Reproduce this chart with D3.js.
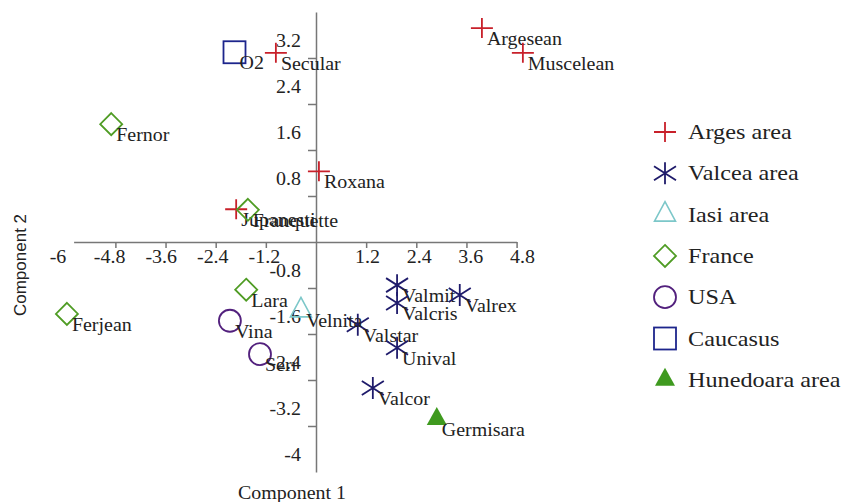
<!DOCTYPE html>
<html>
<head>
<meta charset="utf-8">
<script src="https://cdn.jsdelivr.net/npm/d3@7"></script>
<style>
  body { margin:0; background:#fff; }
  .serif { font-family:"Liberation Serif","Times New Roman",serif; fill:#222; }
  .axis path, .axis line { stroke:#777; stroke-width:1.5; }
</style>
</head>
<body>
<div id="canvas"></div>
<script>
// data
var groups = ['Arges area','Valcea area','Iasi area','France','USA','Caucasus','Hunedoara area'];

var names = ['Argesean','Muscelean','Secular','Roxana','Jupanesti',
             'Valmit','Valcris','Valrex','Valstar','Unival','Valcor',
             'Velnita',
             'Fernor','Franquette','Lara','Ferjean',
             'Vina','Serr',
             'O2',
             'Germisara'];
var comp1 = [3.97, 4.95, -0.96, 0.07, -1.91,
             1.94, 1.94, 3.44, 1.00, 1.94, 1.36,
             -0.36,
             -4.90, -1.63, -1.67, -5.96,
             -2.06, -1.34,
             -1.95,
             2.89];
var comp2 = [3.72, 3.29, 3.29, 1.23, 0.57,
             -0.75, -1.06, -0.92, -1.44, -1.84, -2.54,
             -1.19,
             2.05, 0.56, -0.83, -1.25,
             -1.37, -1.95,
             3.30,
             -3.08];
var groupOf = [0,0,0,0,0, 1,1,1,1,1,1, 2, 3,3,3,3, 4,4, 5, 6];

var xTicks = [-4.8,-3.6,-2.4,-1.2,1.2,2.4,3.6,4.8];
var xTickLabels = [-6,-4.8,-3.6,-2.4,-1.2,1.2,2.4,3.6,4.8];
var yTicks = [3.2,2.4,1.6,0.8,-0.8,-1.6,-2.4,-3.2];
var yTickLabels = [3.2,2.4,1.6,0.8,-0.8,-1.6,-2.4,-3.2,-4];

var colors = ['#c8202a','#1f1b6b','#7cc7c9','#4f9c24','#52207d','#1d258c','#3f9a1f'];

var W = 848, H = 502;
var svg = d3.select('#canvas').append('svg')
    .attr('width', W).attr('height', H);

// scales
var x = d3.scaleLinear().domain([-5.8, 4.8]).range([73.6, 516.6]);
var y = d3.scaleLinear().domain([-4, 4]).range([472, 12]);
// tick labels sit a bit off the ticks in the original
var xl = d3.scaleLinear().domain([-6, 4.8]).range([58, 522.4]);
var yl = d3.scaleLinear().domain([-4, 3.2]).range([455, 41]);

// axes through the origin
svg.append('g').attr('class','axis')
    .attr('transform','translate(0,' + y(0) + ')')
    .call(d3.axisBottom(x).tickValues(xTicks).tickSize(6).tickSizeOuter(0).tickFormat(''));

svg.append('g').attr('class','axis')
    .attr('transform','translate(' + x(0) + ',0)')
    .call(d3.axisLeft(y).tickValues(yTicks).tickSize(8).tickSizeOuter(0).tickFormat(''));

svg.selectAll('.xlab').data(xTickLabels).enter().append('text')
    .attr('class','serif stretch xlab')
    .attr('x', function(d){ return xl(d); })
    .attr('y', 263)
    .attr('text-anchor','middle')
    .style('font-size','19px')
    .text(function(d){ return d; });

svg.selectAll('.ylab').data(yTickLabels).enter().append('text')
    .attr('class','serif stretch ylab')
    .attr('x', 301)
    .attr('y', function(d){ return yl(d) + 6; })
    .attr('text-anchor','end')
    .style('font-size','19px')
    .text(function(d){ return d; });

// axis titles
svg.append('text').attr('class','serif stretch')
    .attr('x', 292).attr('y', 499)
    .attr('text-anchor','middle')
    .style('font-size','19px')
    .text('Component 1');

svg.append('text')
    .attr('transform','translate(26,265) rotate(-90)')
    .attr('text-anchor','middle')
    .style('font-family','"Liberation Sans",Arial,sans-serif')
    .style('font-size','17px')
    .style('fill','#222')
    .text('Component 2');

// marker shapes
function marker(sel, g) {
    var c = colors[g];
    if (g == 0) {
        sel.append('path').attr('d','M-11,0H11M0,-10V10')
            .attr('stroke',c).attr('stroke-width',1.8).attr('fill','none');
    } else if (g == 1) {
        sel.append('path').attr('d','M0,-11V11M-11,-7L11,7M-11,7L11,-7')
            .attr('stroke',c).attr('stroke-width',1.8).attr('fill','none');
    } else if (g == 2) {
        sel.append('path').attr('d','M0,-13L10.5,6.5L-10.5,6.5Z')
            .attr('stroke',c).attr('stroke-width',1.6).attr('fill','none');
    } else if (g == 3) {
        sel.append('path').attr('d','M0,-11L11,0L0,11L-11,0Z')
            .attr('stroke',c).attr('stroke-width',1.8).attr('fill','none');
    } else if (g == 4) {
        sel.append('circle').attr('r',11)
            .attr('stroke',c).attr('stroke-width',1.8).attr('fill','none');
    } else if (g == 5) {
        sel.append('rect').attr('x',-11).attr('y',-11).attr('width',22).attr('height',22)
            .attr('stroke',c).attr('stroke-width',1.8).attr('fill','none');
    } else {
        sel.append('path').attr('d','M0,-12L10,6L-10,6Z')
            .attr('fill',c).attr('stroke','none');
    }
}

// points
var pts = svg.selectAll('.pt').data(names).enter().append('g')
    .attr('class','pt')
    .attr('transform', function(d,i){ return 'translate(' + x(comp1[i]) + ',' + y(comp2[i]) + ')'; });

pts.each(function(d,i){ marker(d3.select(this), groupOf[i]); });

pts.append('text').attr('class','serif stretch')
    .attr('x', 5).attr('y', 17)
    .style('font-size','19px')
    .text(function(d){ return d; });

// legend
var leg = svg.selectAll('.leg').data(groups).enter().append('g')
    .attr('class','leg')
    .attr('transform', function(d,i){ return 'translate(665,' + (132 + i*41.3) + ')'; });

leg.each(function(d,i){ marker(d3.select(this), i); });

leg.append('text').attr('class','serif stretch-l')
    .attr('x', 23).attr('y', 7)
    .style('font-size','22px')
    .text(function(d){ return d; });

// the scan is a little wider than tall, widen the serif text to match
svg.selectAll('.stretch').each(function(){
    var n = this;
    n.setAttribute('textLength', n.getComputedTextLength() * 1.05);
    n.setAttribute('lengthAdjust','spacingAndGlyphs');
});
svg.selectAll('.stretch-l').each(function(){
    var n = this;
    n.setAttribute('textLength', n.getComputedTextLength() * 1.1);
    n.setAttribute('lengthAdjust','spacingAndGlyphs');
});
</script>
</body>
</html>
